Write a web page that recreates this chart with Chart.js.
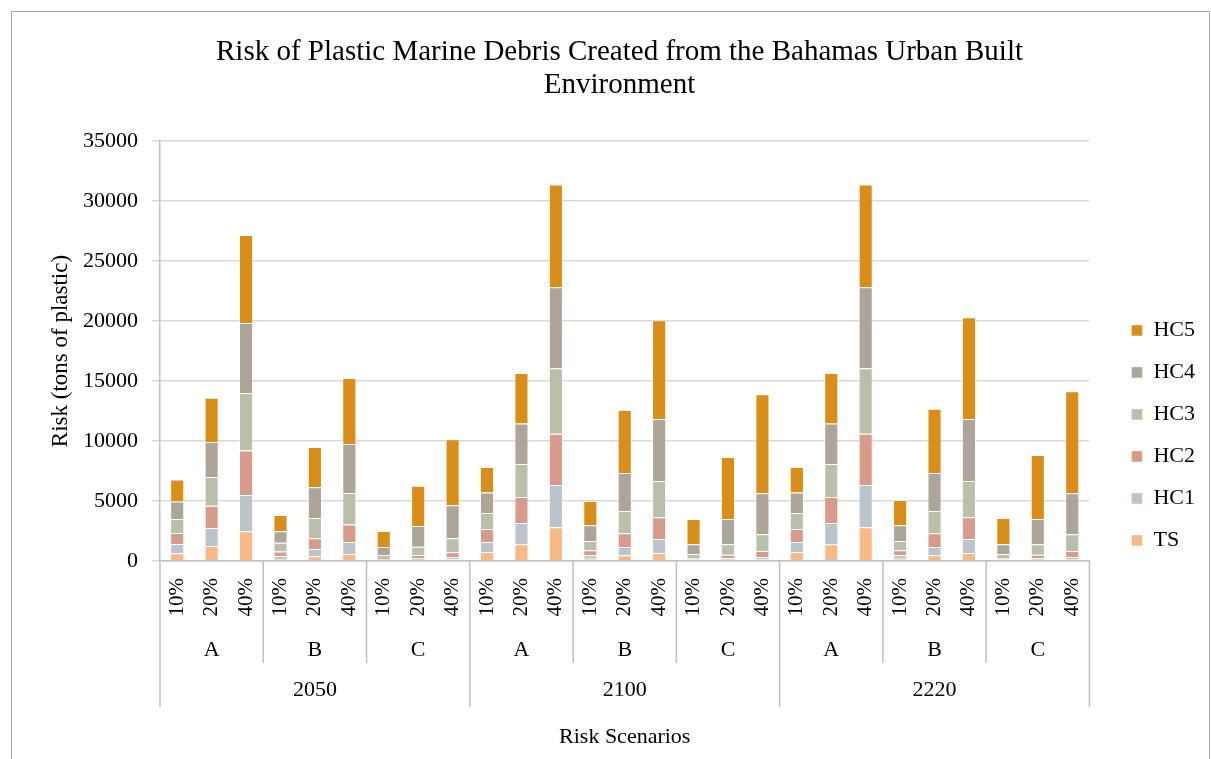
<!DOCTYPE html>
<html>
<head>
<meta charset="utf-8">
<script src="https://cdn.jsdelivr.net/npm/chart.js"></script>
<style>
html, body { margin: 0; padding: 0; background: #fff; }
#wrap { position: relative; width: 1211px; height: 759px; overflow: hidden; }
#frame { position: absolute; left: 11px; top: 11px; width: 1199px; height: 770px; border: 1px solid #a6a6a6; box-sizing: border-box; pointer-events: none; }
#chart { position: absolute; left: 0; top: 0; }
</style>
</head>
<body>
<div id="wrap">
  <canvas id="chart" width="1211" height="759"></canvas>
  <div id="frame"></div>
</div>
<script>
// axis levels
var years = ["2050", "2100", "2220"];
var scenarios = ["A", "B", "C"];
var percents = ["10%", "20%", "40%"];

// series, in order 2050 A10..C40, 2100 A10..C40, 2220 A10..C40 (tons of plastic)
var TS  = [640, 1250, 2470, 170, 390, 580, 40, 80, 120,
           750, 1390, 2810, 190, 470, 670, 50, 100, 130,
           750, 1390, 2810, 190, 470, 670, 50, 100, 130];
var HC1 = [780, 1500, 3030, 250, 610, 1000, 70, 120, 210,
           830, 1780, 3520, 280, 700, 1160, 80, 150, 200,
           830, 1780, 3520, 280, 700, 1160, 80, 150, 200];
var HC2 = [910, 1860, 3720, 380, 890, 1470, 60, 300, 390,
           1090, 2160, 4280, 420, 1140, 1810, 120, 280, 500,
           1090, 2160, 4280, 420, 1140, 1810, 120, 280, 500];
var HC3 = [1170, 2390, 4780, 730, 1690, 2620, 330, 690, 1170,
           1330, 2750, 5450, 780, 1860, 3030, 330, 860, 1390,
           1330, 2750, 5450, 780, 1860, 3030, 330, 860, 1390];
var HC4 = [1470, 2920, 5830, 940, 2560, 4080, 670, 1730, 2750,
           1720, 3390, 6750, 1300, 3160, 5160, 810, 2110, 3420,
           1720, 3390, 6750, 1300, 3160, 5160, 810, 2110, 3420];
var HC5 = [1830, 3690, 7340, 1360, 3360, 5500, 1330, 3360, 5500,
           2110, 4200, 8580, 2030, 5250, 8230, 2110, 5170, 8250,
           2110, 4200, 8580, 2110, 5360, 8480, 2190, 5330, 8500];

var labels = [];
years.forEach(function (y) {
    scenarios.forEach(function (s) {
        percents.forEach(function (p) { labels.push(p); });
    });
});

var serif = "'Liberation Serif', 'Times New Roman', serif";
var lineGrey = "#bfbfbf";

// draws the scenario / year rows under the percent labels
var groupRows = {
    id: "groupRows",
    afterDraw: function (chart) {
        var x = chart.scales.x;
        var area = chart.chartArea;
        var ctx = chart.ctx;
        var half = (x.getPixelForValue(1) - x.getPixelForValue(0)) / 2;
        var perYear = scenarios.length * percents.length;

        ctx.save();
        ctx.strokeStyle = lineGrey;
        ctx.lineWidth = 1.5;
        for (var b = 0; b <= labels.length; b += percents.length) {
            var px = b < labels.length ? x.getPixelForValue(b) - half : x.getPixelForValue(b - 1) + half;
            var yEnd = (b % perYear === 0) ? area.bottom + 146 : area.bottom + 102;
            ctx.beginPath();
            ctx.moveTo(px, area.bottom);
            ctx.lineTo(px, yEnd);
            ctx.stroke();
        }

        ctx.fillStyle = "#000";
        ctx.textAlign = "center";
        ctx.textBaseline = "middle";
        ctx.font = "22px " + serif;
        for (var g = 0; g < years.length * scenarios.length; g++) {
            var cx = x.getPixelForValue(g * percents.length + 1);
            ctx.fillText(scenarios[g % scenarios.length], cx, area.bottom + 89);
        }
        for (var k = 0; k < years.length; k++) {
            var mid = (x.getPixelForValue(k * perYear) + x.getPixelForValue((k + 1) * perYear - 1)) / 2;
            ctx.fillText(years[k], mid, area.bottom + 129);
        }
        ctx.restore();
    }
};

function ds(label, data, color) {
    return {
        label: label,
        data: data,
        backgroundColor: color,
        borderColor: "rgba(255,255,255,0.45)",
        borderWidth: 1,
        barPercentage: 0.5,
        categoryPercentage: 0.82
    };
}

new Chart(document.getElementById("chart"), {
    type: "bar",
    data: {
        labels: labels,
        datasets: [
            ds("TS", TS, "#f7ba84"),
            ds("HC1", HC1, "#bac4ca"),
            ds("HC2", HC2, "#d99b89"),
            ds("HC3", HC3, "#b9bfa9"),
            ds("HC4", HC4, "#aca598"),
            ds("HC5", HC5, "#da8e17")
        ]
    },
    options: {
        responsive: false,
        animation: false,
        layout: { padding: { left: 34, right: 6, top: 0, bottom: 0 } },
        plugins: {
            title: {
                display: true,
                text: ["Risk of Plastic Marine Debris Created from the Bahamas Urban Built", "Environment"],
                color: "#000",
                font: { family: serif, size: 29, weight: "normal", lineHeight: 1.14 },
                padding: { top: 36, bottom: 39 }
            },
            legend: {
                position: "right",
                align: "start",
                reverse: true,
                title: { display: true, text: "", font: { size: 12 }, padding: { top: 285, bottom: 0 } },
                labels: {
                    boxWidth: 11,
                    boxHeight: 11,
                    padding: 20,
                    color: "#000",
                    font: { family: serif, size: 22 }
                }
            },
            tooltip: { enabled: false }
        },
        scales: {
            x: {
                stacked: true,
                grid: { display: false, drawTicks: false },
                border: { display: true, color: lineGrey, width: 1.5 },
                ticks: {
                    autoSkip: false,
                    minRotation: 90,
                    maxRotation: 90,
                    padding: 17,
                    color: "#000",
                    font: { family: serif, size: 21 }
                },
                title: {
                    display: true,
                    text: "Risk Scenarios",
                    color: "#000",
                    font: { family: serif, size: 22 },
                    padding: { top: 0, bottom: 9 }
                },
                afterFit: function (s) { s.height = 198; }
            },
            y: {
                stacked: true,
                min: 0,
                max: 35000,
                grid: { color: "#d9d9d9", lineWidth: 1.5, tickLength: 8 },
                border: { color: lineGrey, width: 1.5 },
                ticks: {
                    stepSize: 5000,
                    padding: 14,
                    color: "#000",
                    font: { family: serif, size: 22 },
                    callback: function (v) { return String(v); }
                },
                title: {
                    display: true,
                    text: "Risk (tons of plastic)",
                    color: "#000",
                    font: { family: serif, size: 23 },
                    padding: { top: 13, bottom: 0 }
                },
                afterFit: function (s) { s.width = 126; }
            },
            gap: {
                type: "linear",
                position: "right",
                display: true,
                grid: { display: false },
                border: { display: false },
                ticks: { display: false },
                afterFit: function (s) { s.width = 22; }
            }
        }
    },
    plugins: [groupRows]
});
</script>
</body>
</html>
